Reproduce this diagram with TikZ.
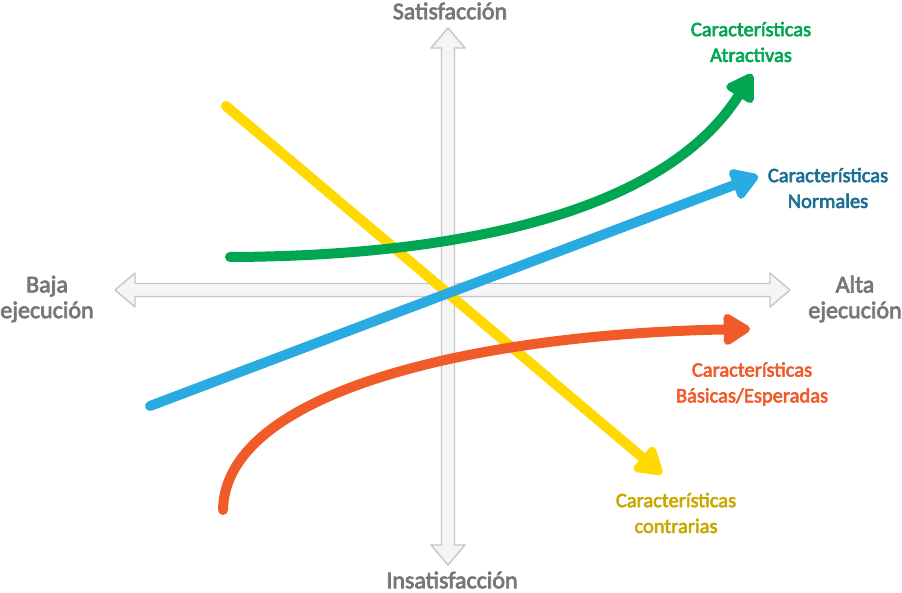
\documentclass[tikz,border=0pt]{standalone}
\usepackage{fontspec}
\setmainfont{Carlito}[BoldFont={Carlito}, BoldFeatures={FakeBold=3}]
\usepackage{xcolor}
\usetikzlibrary{arrows.meta, positioning}
\definecolor{kanogreen}{HTML}{00A651}
\definecolor{kanoblue}{HTML}{29ABE2}
\definecolor{kanoyellow}{HTML}{FFD900}
\definecolor{kanoorange}{HTML}{F15A29}
\definecolor{txtblue}{HTML}{1C6E93}
\definecolor{txtyellow}{HTML}{C9A800}
\definecolor{axisgray}{HTML}{777777}

\begin{document}
\begin{tikzpicture}[x=0.03cm, y=-0.03cm,
            axis/.style={draw=gray!45, fill=gray!8, line width=1.2pt, line join=round},
            axislabel/.style={font=\bfseries\fontsize{20.5}{22}\selectfont, text=axisgray, align=center},
            curvelabel/.style={font=\bfseries\fontsize{17.5}{22}\selectfont, align=center},
            curve/.style={line width=0.3cm, line cap=round, -{Triangle[length=0.9cm, width=1.05cm, round]}}]

            \useasboundingbox (0,0) rectangle (902,593);

            % ejes
            \draw[axis] (115,290) -- (135,273) -- (135,283.5) -- (770,283.5) -- (770,273) -- (790,290)
                -- (770,307) -- (770,296.5) -- (135,296.5) -- (135,307) -- cycle;
            \draw[axis] (448,28) -- (465,48) -- (454.5,48) -- (454.5,545) -- (465,545) -- (448,565)
                -- (431,545) -- (441.5,545) -- (441.5,48) -- (431,48) -- cycle;

            \node[axislabel] (sat) at (450,11) {Satisfacción};
            \node[axislabel] (insat) at (452,580) {Insatisfacción};
            \node[axislabel] (baja) at (47,299) {Baja\\ejecución};
            \node[axislabel] (alta) at (855,299) {Alta\\ejecución};

            % puntos de las curvas
            \coordinate (greenA) at (230,257);
            \coordinate (greenB) at (752,74);
            \coordinate (blueA) at (150,406);
            \coordinate (blueB) at (758,176);
            \coordinate (yellowA) at (226,106);
            \coordinate (yellowB) at (662,474);
            \coordinate (orangeA) at (223,510);
            \coordinate (orangeB) at (750,329);

            \draw[curve, kanoyellow] (yellowA) -- (yellowB);
            \draw[curve, kanogreen] (greenA) .. controls (480,256) and (670,205) .. (greenB);
            \draw[curve, kanoorange] (orangeA) .. controls (225,390) and (480,334) .. (orangeB);
            \draw[curve, kanoblue] (blueA) -- (blueB);

            \node[curvelabel, text=kanogreen] (atr) at (751,42) {Características\\Atractivas};
            \node[curvelabel, text=txtblue] (nor) at (828,188) {Características\\Normales};
            \node[curvelabel, text=kanoorange] (bas) at (752,384) {Características\\Básicas/Esperadas};
            \node[curvelabel, text=txtyellow] (con) at (676,513) {Características\\contrarias};
        \end{tikzpicture}
\end{document}
